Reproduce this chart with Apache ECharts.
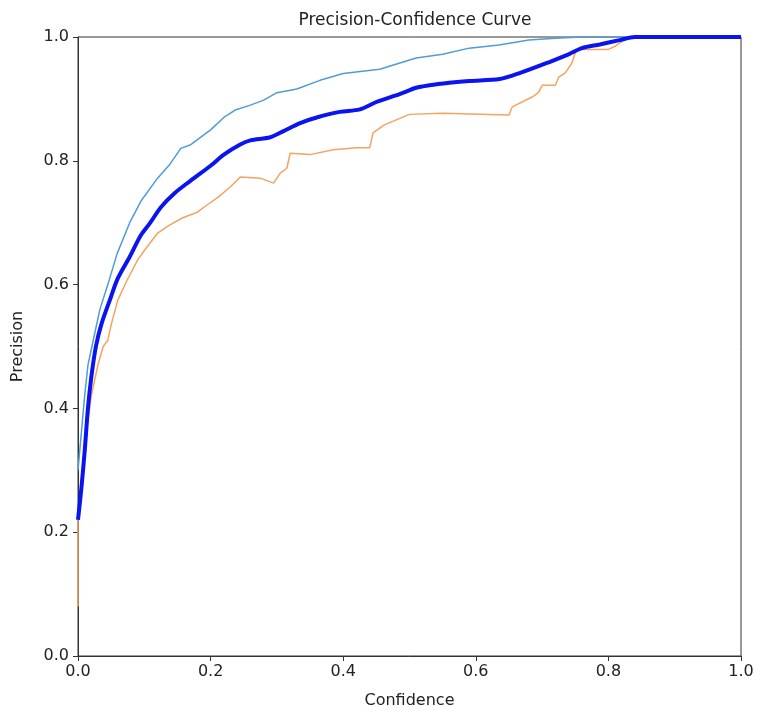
<!DOCTYPE html>
<html>
<head>
<meta charset="utf-8">
<script src="https://cdn.jsdelivr.net/npm/echarts@6/dist/echarts.min.js"></script>
<style>
  html, body { margin: 0; padding: 0; background: #fff; }
  #chart { width: 760px; height: 717px; }
</style>
</head>
<body>
<div id="chart"></div>
<script>
// axis ticks
var tickValues = [0, 0.2, 0.4, 0.6, 0.8, 1.0];

// class 1 (thin blue)
var class1Conf = [0, 0.005, 0.01, 0.015, 0.021, 0.033, 0.045, 0.059, 0.078, 0.095, 0.12, 0.139, 0.155, 0.17, 0.2, 0.22, 0.237, 0.26, 0.28, 0.3, 0.33, 0.365, 0.4, 0.455, 0.51, 0.55, 0.59, 0.635, 0.68, 0.72, 0.76, 1.0];
var class1Prec = [0.3, 0.36, 0.42, 0.47, 0.5, 0.56, 0.6, 0.65, 0.7, 0.735, 0.772, 0.795, 0.82, 0.826, 0.85, 0.87, 0.882, 0.89, 0.898, 0.91, 0.916, 0.93, 0.941, 0.948, 0.966, 0.972, 0.982, 0.987, 0.995, 0.998, 1.0, 1.0];

// class 2 (orange)
var class2Conf = [0, 0, 0.005, 0.01, 0.02, 0.03, 0.038, 0.045, 0.05, 0.06, 0.074, 0.09, 0.1, 0.12, 0.138, 0.158, 0.18, 0.195, 0.21, 0.23, 0.245, 0.275, 0.295, 0.305, 0.315, 0.32, 0.35, 0.385, 0.42, 0.44, 0.445, 0.462, 0.5, 0.55, 0.65, 0.655, 0.685, 0.695, 0.7, 0.72, 0.725, 0.735, 0.745, 0.75, 0.753, 0.8, 0.81, 0.83, 1.0];
var class2Prec = [0.08, 0.22, 0.28, 0.34, 0.42, 0.47, 0.5, 0.51, 0.535, 0.575, 0.607, 0.64, 0.655, 0.683, 0.696, 0.708, 0.717, 0.729, 0.74, 0.758, 0.774, 0.772, 0.764, 0.78, 0.788, 0.812, 0.81, 0.818, 0.821, 0.821, 0.845, 0.858, 0.875, 0.877, 0.874, 0.887, 0.903, 0.911, 0.922, 0.922, 0.935, 0.942, 0.958, 0.975, 0.98, 0.98, 0.985, 1.0, 1.0];

// all classes (thick blue)
var allConf = [0, 0.005, 0.01, 0.015, 0.02, 0.027, 0.035, 0.048, 0.06, 0.078, 0.095, 0.109, 0.125, 0.146, 0.17, 0.2, 0.22, 0.244, 0.26, 0.29, 0.31, 0.335, 0.36, 0.395, 0.425, 0.45, 0.486, 0.51, 0.53, 0.56, 0.59, 0.636, 0.667, 0.712, 0.74, 0.76, 0.787, 0.817, 0.84, 1.0];
var allPrec = [0.22, 0.27, 0.33, 0.4, 0.45, 0.5, 0.535, 0.575, 0.61, 0.645, 0.68, 0.7, 0.725, 0.748, 0.768, 0.792, 0.81, 0.826, 0.833, 0.838, 0.848, 0.861, 0.87, 0.879, 0.883, 0.895, 0.908, 0.918, 0.922, 0.926, 0.929, 0.932, 0.942, 0.96, 0.972, 0.982, 0.988, 0.995, 1.0, 1.0];

function pairs(xs, ys) {
    var out = [];
    for (var i = 0; i < xs.length; i++) {
        out.push([xs[i], ys[i]]);
    }
    return out;
}

var chart = echarts.init(document.getElementById('chart'));
var font = 'DejaVu Sans';

chart.setOption({
    animation: false,
    title: {
        text: 'Precision-Confidence Curve',
        left: 410,
        top: 7,
        textAlign: 'center',
        textStyle: { fontFamily: font, fontSize: 17, fontWeight: 'normal', color: '#222' }
    },
    grid: {
        left: 78, right: 19, top: 37, bottom: 61,
        show: true, borderColor: '#333', borderWidth: 1
    },
    xAxis: {
        type: 'value', min: 0, max: 1, interval: 0.2,
        name: 'Confidence', nameLocation: 'middle', nameGap: 37,
        nameTextStyle: { fontFamily: font, fontSize: 16, color: '#222' },
        axisLine: { lineStyle: { color: '#333' } },
        axisTick: { show: true, length: 5, lineStyle: { color: '#333' } },
        axisLabel: {
            fontFamily: font, fontSize: 16, color: '#222', margin: 8,
            formatter: function (v) { return v.toFixed(1); }
        },
        splitLine: { show: false }
    },
    yAxis: {
        type: 'value', min: 0, max: 1, interval: 0.2,
        name: 'Precision', nameLocation: 'middle', nameGap: 52,
        nameTextStyle: { fontFamily: font, fontSize: 16, color: '#222' },
        axisLine: { show: true, lineStyle: { color: '#333' } },
        axisTick: { show: true, length: 5, lineStyle: { color: '#333' } },
        axisLabel: {
            fontFamily: font, fontSize: 16, color: '#222', margin: 9,
            formatter: function (v) { return v.toFixed(1); }
        },
        splitLine: { show: false }
    },
    series: [
        {
            type: 'line', data: pairs(class1Conf, class1Prec),
            showSymbol: false, lineStyle: { color: '#4f9cd6', width: 1.5 }
        },
        {
            type: 'line', data: pairs(class2Conf, class2Prec),
            showSymbol: false, lineStyle: { color: '#f5a35e', width: 1.5 }
        },
        {
            type: 'line', data: pairs(allConf, allPrec),
            showSymbol: false, smooth: 0.3, lineStyle: { color: '#0a14f0', width: 4 }
        }
    ]
});
</script>
</body>
</html>
